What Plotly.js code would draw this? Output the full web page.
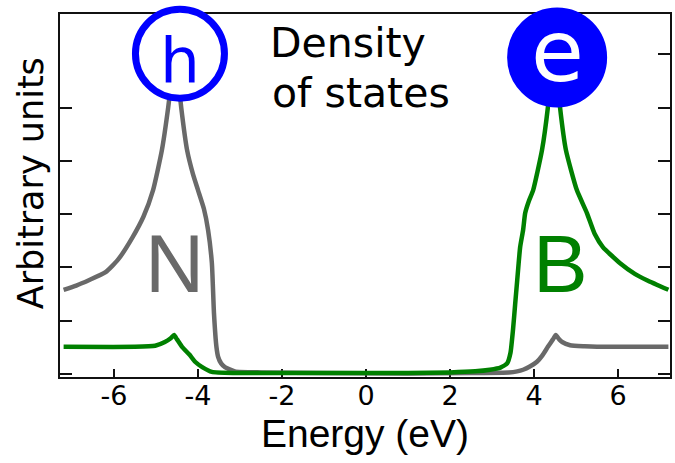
<!DOCTYPE html>
<html>
<head>
<meta charset="utf-8">
<script src="https://cdn.plot.ly/plotly-3.0.1.min.js"></script>
<style>html,body{margin:0;padding:0;background:#fff;}#chart{width:675px;height:463px;}</style>
</head>
<body>
<div id="chart"></div>
<script>
// Gray curve (N) — energy (eV) and density (arb. units)
var grayE = [-7.2,-6.9,-6.6,-6.2,-5.9,-5.57,-5.3,-5.07,-4.86,-4.71,-4.62,-4.55,-4.48,-4.40,-4.26,-4.12,-4.0,-3.86,-3.76,-3.67,-3.62,-3.56,-3.52,-3.45,-3.36,-3.12,-2.5,-1.0,1.0,2.5,3.4,3.6,3.74,3.9,4.07,4.2,4.33,4.45,4.52,4.6,4.67,4.86,5.2,5.5,7.2];
var grayD = [1.58,1.66,1.76,1.91,2.15,2.55,2.95,3.45,4.2,5.0,5.6,6.1,5.6,5.0,4.2,3.75,3.45,3.1,2.70,2.08,1.14,0.5,0.32,0.2,0.13,0.05,0.03,0.02,0.01,0.02,0.03,0.05,0.08,0.14,0.23,0.35,0.51,0.65,0.73,0.65,0.6,0.54,0.52,0.51,0.51];
// Green curve (B)
var greenE = [-7.2,-5.5,-5.02,-4.79,-4.65,-4.57,-4.5,-4.38,-4.2,-4.07,-3.9,-3.67,-3.1,-1.0,1.0,2.0,2.6,2.95,3.2,3.36,3.44,3.5,3.55,3.6,3.67,3.74,3.79,3.88,3.98,4.19,4.33,4.4,4.47,4.55,4.62,4.76,5.02,5.26,5.45,5.64,6.05,6.4,6.69,7.2];
var greenD = [0.51,0.51,0.53,0.6,0.67,0.73,0.65,0.51,0.36,0.23,0.13,0.04,0.02,0.02,0.02,0.03,0.05,0.08,0.12,0.2,0.4,0.83,1.3,1.76,2.38,2.7,3.02,3.25,3.45,4.2,5.0,5.6,6.1,5.6,5.0,4.2,3.45,3.02,2.62,2.38,2.08,1.88,1.76,1.58];
// Carrier markers
var carrierE = [-4.43, 4.55];
var carrierD = [6.01, 5.94];
var carrierLabels = ['h', 'e'];
// Axis ticks
var xTickVals = [-6,-4,-2,0,2,4,6];
var xTickText = ['-6','-4','-2','0','2','4','6'];
var yTickValsLeft = [0,1,2,3,4,5];
var yTickValsRight = [0,1,2,3,4,5,6];

var xRange = [-7.286, 7.238];
var yRange = [-0.056, 6.754];

var traces = [
  {x: grayE, y: grayD, type: 'scatter', mode: 'lines', line: {color: '#696969', width: 4.5, shape: 'spline', smoothing: 0.5}, hoverinfo: 'skip'},
  {x: greenE, y: greenD, type: 'scatter', mode: 'lines', line: {color: '#008000', width: 4.5, shape: 'spline', smoothing: 0.5}, hoverinfo: 'skip'},
  {x: carrierE, y: carrierD, type: 'scatter', mode: 'markers', yaxis: 'y2', cliponaxis: false,
   marker: {symbol: 'circle', opacity: 1, size: [89, 93], color: ['#ffffff', '#0000ff'], line: {color: '#0000ff', width: 7}}, hoverinfo: 'skip'}
];

var layout = {
  width: 675, height: 463,
  margin: {l: 60, r: 5, t: 14, b: 86, pad: 0},
  paper_bgcolor: '#ffffff', plot_bgcolor: '#ffffff',
  showlegend: false,
  xaxis: {
    range: xRange, tickvals: xTickVals, ticktext: xTickText,
    ticks: 'inside', ticklen: 8, tickwidth: 2, tickcolor: '#111',
    showline: true, linecolor: '#111', linewidth: 2, mirror: true,
    showgrid: false, zeroline: false, layer: 'below traces',
    ticklabelstandoff: -6,
    tickfont: {family: 'DejaVu Sans', size: 27, color: '#000'},
    title: {text: 'Energy (eV)', font: {family: 'Liberation Sans, Arial, sans-serif', size: 39, color: '#000'}, standoff: 9}
  },
  yaxis: {
    range: yRange, tickvals: yTickValsLeft, showticklabels: false,
    ticks: 'inside', ticklen: 12, tickwidth: 2, tickcolor: '#111',
    showline: true, linecolor: '#111', linewidth: 2, mirror: true,
    showgrid: false, zeroline: false, layer: 'below traces'
  },
  yaxis2: {
    range: yRange, overlaying: 'y', side: 'right', tickvals: yTickValsRight, showticklabels: false,
    ticks: 'inside', ticklen: 12, tickwidth: 2, tickcolor: '#111',
    showline: false, showgrid: false, zeroline: false, layer: 'below traces'
  },
  annotations: [
    {x: carrierE[0], y: 5.89, xref: 'x', yref: 'y', text: carrierLabels[0], showarrow: false, xanchor: 'center', yanchor: 'middle',
     font: {family: 'DejaVu Sans', size: 63, color: '#0000ff'}},
    {x: carrierE[1], y: 6.06, xref: 'x', yref: 'y', text: carrierLabels[1], showarrow: false, xanchor: 'center', yanchor: 'middle',
     font: {family: 'DejaVu Sans', size: 86, color: '#ffffff'}},
    {x: -2.33, y: 6.21, xref: 'x', yref: 'y', text: 'Density', showarrow: false, xanchor: 'left', yanchor: 'middle',
     font: {family: 'DejaVu Sans', size: 41, color: '#000'}},
    {x: -2.28, y: 5.28, xref: 'x', yref: 'y', text: 'of states', showarrow: false, xanchor: 'left', yanchor: 'middle',
     font: {family: 'DejaVu Sans', size: 41, color: '#000'}},
    {x: -4.57, y: 2.07, xref: 'x', yref: 'y', text: 'N', showarrow: false, xanchor: 'center', yanchor: 'middle',
     font: {family: 'Liberation Sans, Arial, sans-serif', size: 82, color: '#696969'}},
    {x: 4.64, y: 2.07, xref: 'x', yref: 'y', text: 'B', showarrow: false, xanchor: 'center', yanchor: 'middle',
     font: {family: 'Liberation Sans, Arial, sans-serif', size: 82, color: '#008000'}},
    {x: -0.0484, y: 0.535, xref: 'paper', yref: 'paper', text: 'Arbitrary units', textangle: -90, showarrow: false,
     xanchor: 'center', yanchor: 'middle', font: {family: 'DejaVu Sans', size: 35, color: '#000'}}
  ]
};

Plotly.newPlot('chart', traces, layout, {staticPlot: true, displayModeBar: false});
</script>
</body>
</html>
